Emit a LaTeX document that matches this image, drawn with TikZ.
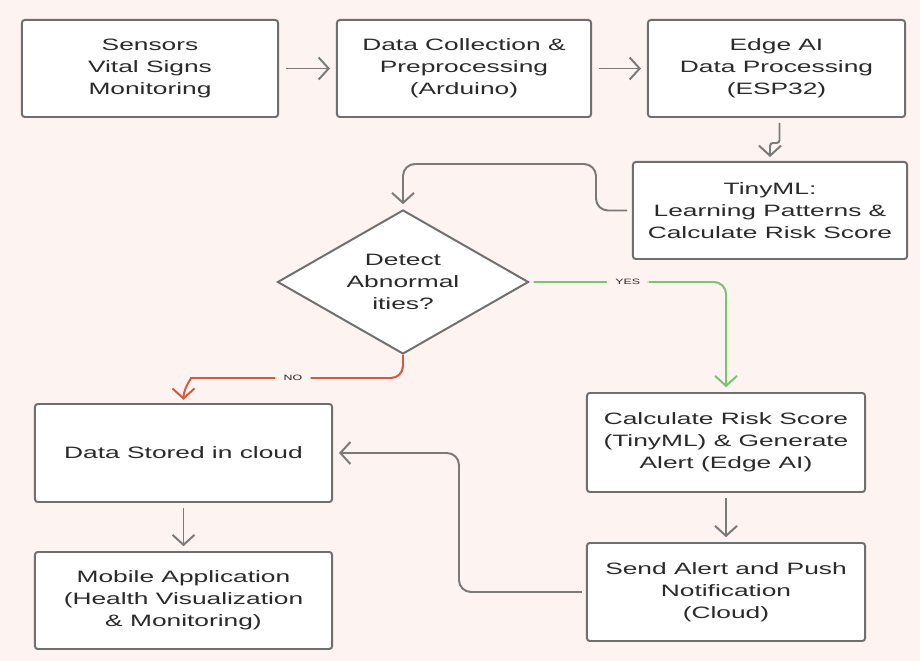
\documentclass[tikz,border=0pt]{standalone}
\usepackage{fontspec}
\setmainfont{Liberation Sans}[FakeStretch=1.6]
\usetikzlibrary{shapes.geometric}
\usetikzlibrary{arrows.meta}

\definecolor{bgpink}{HTML}{FDF3F1}
\definecolor{boxline}{HTML}{6F6F6F}
\definecolor{arrowgray}{HTML}{7A7A7A}
\definecolor{textgray}{HTML}{2A2A2A}
\definecolor{yesgreen}{HTML}{74C76A}
\definecolor{nored}{HTML}{D9573C}

\begin{document}
\begin{tikzpicture}[x=0.025cm, y=-0.025cm,
  process/.style = {shape=rectangle, rounded corners=2pt, draw=boxline,
    line width=1.4pt, fill=white, align=center, text=textgray,
    font=\fontsize{11.7}{15.6}\selectfont, minimum height=2.425cm},
  decision/.style = {shape=diamond, aspect=1.75, draw=boxline, line width=1.4pt,
    fill=white, align=center, text=textgray, inner sep=0pt,
    font=\fontsize{11.7}{15.6}\selectfont,
    minimum width=6.275cm, minimum height=3.6cm},
  flow/.style = {draw=arrowgray, line width=1.4pt, rounded corners=0.3cm,
    -{Straight Barb[length=2.5mm, width=5.5mm]}},
  yesflow/.style = {flow, draw=yesgreen},
  noflow/.style = {flow, draw=nored},
  branch/.style = {fill=bgpink, text=textgray, inner xsep=6pt,
    font=\fontsize{5.5}{6}\selectfont}]

  \fill[bgpink] (0,0) rectangle (920,661);
  \useasboundingbox (0,0) rectangle (920,661);

  % top row
  \node[process, minimum width=6.4cm] (sensors) at (150,68.5)
    {Sensors\\Vital Signs\\Monitoring};
  \node[process, minimum width=6.35cm] (collect) at (464,68.5)
    {Data Collection \&\\Preprocessing\\(Arduino)};
  \node[process, minimum width=6.425cm] (edge) at (776.5,68.5)
    {Edge AI\\Data Processing\\(ESP32)};
  \node[process, minimum width=6.85cm] (tiny) at (770,210.5)
    {TinyML:\\Learning Patterns \&\\Calculate Risk Score};

  % decision
  \node[decision] (detect) at (403,282) {Detect\\Abnormal\\ities?};

  % left branch
  \node[process, minimum width=7.425cm, minimum height=2.45cm] (stored) at (183.5,453)
    {Data Stored in cloud};
  \node[process, minimum width=7.425cm] (mobile) at (183.5,600.5)
    {Mobile Application\\(Health Visualization\\\& Monitoring)};

  % right branch
  \node[process, minimum width=6.95cm, minimum height=2.475cm] (calc) at (726,442.5)
    {Calculate Risk Score\\(TinyML) \& Generate\\Alert (Edge AI)};
  \node[process, minimum width=6.95cm, minimum height=2.45cm] (send) at (726,592)
    {Send Alert and Push\\Notification\\(Cloud)};

  \draw[flow, shorten <=0.17cm, shorten >=0.15cm] (sensors) -- (collect);
  \draw[flow, shorten <=0.17cm, shorten >=0.15cm] (collect) -- (edge);
  \draw[flow, rounded corners=2pt, shorten <=0.12cm, shorten >=0.1cm]
    ([xshift=0.075cm]edge.south) -- ++(0,25) -| (tiny.north);
  \draw[flow, shorten <=0.12cm, shorten >=0.12cm]
    (tiny.west) -- ++(-36,0) -- ++(0,-46.5) -| (detect.north);
  \draw[yesflow, shorten <=0.1cm, shorten >=0.12cm]
    (detect.east) -| node[branch, pos=0.25] {YES} (calc.north);
  \draw[noflow]
    (detect.south) -- ++(0,23) -- node[branch, pos=0.55] {NO} ++(-200,0)
    to[out=180, in=90] ([yshift=0.08cm]stored.north);
  \draw[flow, shorten <=0.12cm, shorten >=0.12cm] (stored) -- (mobile);
  \draw[flow, shorten <=0.12cm, shorten >=0.12cm] (calc) -- (send);
  \draw[flow, shorten <=0.1cm, shorten >=0.15cm]
    (send.west) -- ++(-127,0) |- (stored.east);

\end{tikzpicture}
\end{document}
